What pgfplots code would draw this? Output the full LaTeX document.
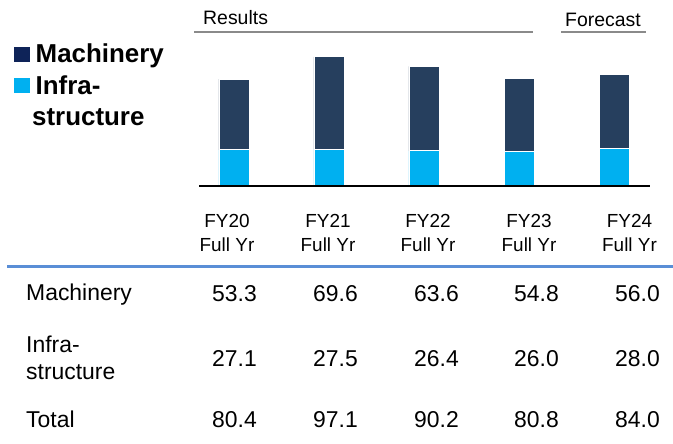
\documentclass[border=0pt]{standalone}
\usepackage{pgfplots}
\pgfplotsset{compat=1.18}
\usepackage{fontspec}
\setmainfont{Liberation Sans}
\definecolor{navybar}{HTML}{263F5E}
\definecolor{navyleg}{HTML}{0E2358}
\definecolor{cyanbar}{HTML}{00B0F0}
\definecolor{rulegray}{HTML}{8A8A8A}
\definecolor{ruleblue}{HTML}{5A8ED6}
\begin{document}
\begin{tikzpicture}[x=1bp,y=1bp]
\path[use as bounding box] (0,0) rectangle (673,444);
\begin{axis}[
  at={(199bp,258bp)}, anchor=south west,
  scale only axis, width=451bp, height=133bp,
  xmin=-0.368, xmax=4.379, ymin=0, ymax=100,
  axis x line=bottom, axis y line=none,
  axis line style={black, line width=1.6bp, -},
  axis on top,
  xtick=\empty, ytick=\empty,
  ybar stacked, bar width=30bp, clip=false,
]
\addplot[fill=cyanbar, draw=white, line width=0.9bp] coordinates {(0,27.1) (1,27.5) (2,26.4) (3,26.0) (4,28.0)};
\addplot[fill=navybar, draw=white, line width=0.9bp] coordinates {(0,53.3) (1,69.6) (2,63.6) (3,54.8) (4,56.0)};
\end{axis}
% Results / Forecast headers
\draw[rulegray, line width=1.6bp] (194,412) -- (533,412);
\draw[rulegray, line width=1.6bp] (561,412) -- (646,412);
\node[anchor=base west, inner sep=0pt, font=\fontsize{19.5}{22}\selectfont] at (203,419) {Results};
\node[anchor=base west, inner sep=0pt, font=\fontsize{19.5}{22}\selectfont] at (565,417.5) {Forecast};
% legend
\fill[navyleg] (14,382) rectangle (30,397);
\fill[cyanbar] (14,351) rectangle (30,366);
\node[anchor=base west, inner sep=0pt, font=\fontsize{26}{30}\bfseries\selectfont] at (35.5,381) {Machinery};
\node[anchor=base west, inner sep=0pt, font=\fontsize{26}{30}\bfseries\selectfont] at (35.5,349.5) {Infra-};
\node[anchor=base west, inner sep=0pt, font=\fontsize{26}{30}\bfseries\selectfont] at (32,318) {structure};
% column headers
\foreach \cx/\lab in {227/FY20, 328/FY21, 428/FY22, 529/FY23, 629.5/FY24} {
  \node[anchor=base, inner sep=0pt, font=\fontsize{19}{22}\selectfont] at (\cx,216.7) {\lab};
  \node[anchor=base, inner sep=0pt, font=\fontsize{19}{22}\selectfont] at (\cx,192.3) {Full Yr};
}
\draw[ruleblue, line width=3bp] (7,177) -- (673,177);
% table rows
\node[anchor=base west, inner sep=0pt, font=\fontsize{23}{26}\selectfont] at (26,143) {Machinery};
\node[anchor=base west, inner sep=0pt, font=\fontsize{23}{26}\selectfont] at (26,91) {Infra-};
\node[anchor=base west, inner sep=0pt, font=\fontsize{23}{26}\selectfont] at (26,64) {structure};
\node[anchor=base west, inner sep=0pt, font=\fontsize{23}{26}\selectfont] at (26,16) {Total};
\foreach \rx/\va/\vb/\vc in {257/53.3/27.1/80.4, 358/69.6/27.5/97.1, 459/63.6/26.4/90.2, 559/54.8/26.0/80.8, 660/56.0/28.0/84.0} {
  \node[anchor=base east, inner sep=0pt, font=\fontsize{23}{26}\selectfont] at (\rx,142) {\va};
  \node[anchor=base east, inner sep=0pt, font=\fontsize{23}{26}\selectfont] at (\rx,77.5) {\vb};
  \node[anchor=base east, inner sep=0pt, font=\fontsize{23}{26}\selectfont] at (\rx,16) {\vc};
}
\end{tikzpicture}
\end{document}
